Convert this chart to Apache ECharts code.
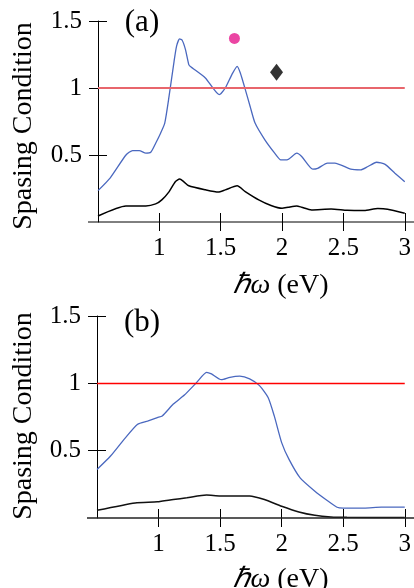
<!DOCTYPE html>
<html>
<head>
<meta charset="utf-8">
<script src="https://cdn.jsdelivr.net/npm/echarts@6/dist/echarts.min.js"></script>
<style>
html,body{margin:0;padding:0;background:#fff;}
#chart{width:414px;height:588px;}
</style>
</head>
<body>
<div id="chart"></div>
<script>
// ---------- data ----------
var xTicks = [1, 1.5, 2, 2.5, 3];
var yTicks = [0.5, 1, 1.5];
var threshold = 1;

var blueA = [[0.5,0.234],[0.6,0.33],[0.728,0.50],[0.782,0.533],[0.836,0.533],[0.89,0.514],[0.93,0.52],[0.97,0.588],[1.01,0.663],[1.044,0.738],[1.079,0.937],[1.12,1.199],[1.14,1.311],[1.165,1.366],[1.186,1.356],[1.213,1.286],[1.24,1.174],[1.253,1.16],[1.375,1.075],[1.488,0.95],[1.537,1.0],[1.591,1.10],[1.634,1.162],[1.66,1.112],[1.70,0.99],[1.74,0.862],[1.78,0.738],[1.86,0.613],[1.94,0.514],[1.99,0.464],[2.04,0.464],[2.12,0.514],[2.16,0.489],[2.25,0.394],[2.29,0.40],[2.37,0.44],[2.43,0.44],[2.56,0.394],[2.64,0.389],[2.70,0.414],[2.77,0.446],[2.84,0.43],[2.92,0.364],[3.0,0.30]];
var blackA = [[0.5,0.045],[0.728,0.12],[0.89,0.12],[0.97,0.135],[1.02,0.165],[1.08,0.227],[1.13,0.30],[1.165,0.32],[1.2,0.30],[1.24,0.27],[1.375,0.24],[1.48,0.223],[1.537,0.24],[1.634,0.27],[1.70,0.227],[1.81,0.165],[1.91,0.123],[2.0,0.102],[2.05,0.11],[2.12,0.12],[2.16,0.11],[2.24,0.09],[2.40,0.097],[2.53,0.087],[2.67,0.085],[2.78,0.10],[2.86,0.095],[3.0,0.065]];
var pinkDot = [[1.612,1.37]];
var diamond = [[1.955,1.117]];

var blueB = [[0.5,0.36],[0.61,0.46],[0.72,0.584],[0.83,0.696],[0.91,0.72],[0.99,0.746],[1.03,0.758],[1.12,0.846],[1.21,0.913],[1.31,1.007],[1.39,1.082],[1.43,1.07],[1.51,1.027],[1.58,1.045],[1.66,1.053],[1.74,1.033],[1.82,0.983],[1.89,0.895],[1.94,0.758],[2.0,0.56],[2.06,0.435],[2.15,0.298],[2.27,0.199],[2.37,0.13],[2.45,0.08],[2.5,0.074],[2.67,0.074],[2.81,0.081],[3.0,0.081]];
var blackB = [[0.5,0.057],[0.81,0.112],[0.99,0.12],[1.12,0.137],[1.23,0.15],[1.39,0.17],[1.5,0.164],[1.74,0.164],[1.86,0.137],[2.0,0.087],[2.14,0.045],[2.27,0.02],[2.40,0.008],[2.53,0.005],[3.0,0.003]];

var yName = 'Spasing Condition';

// ---------- style ----------
var FONT = "Liberation Serif";
var grids = [
  {left: 98, top: 21, width: 309, height: 201},
  {left: 97, top: 316, width: 310, height: 202}
];
var labelRich = {s:{fontFamily:FONT, fontSize:25, color:'#000'}};
function fmt(v) { return '{s|' + v + '}'; }

function xAxes(g) {
  return [
    {type:'value', gridIndex:g, min:0.5, max:3, interval:0.5,
     axisLine:{show:false}, splitLine:{show:false},
     axisTick:{show:true, inside:false, length:9, customValues:xTicks, lineStyle:{color:'#000', width:1}},
     axisLabel:{show:true, customValues:xTicks, margin:14, color:'#000', fontFamily:FONT, fontSize:25,
       formatter:fmt, rich:labelRich}},
    {type:'value', gridIndex:g, min:0.5, max:3, interval:0.5, position:'bottom',
     axisLine:{show:false}, splitLine:{show:false},
     axisTick:{show:true, inside:true, length:9, customValues:xTicks, lineStyle:{color:'#000', width:1}},
     axisLabel:{show:false}}
  ];
}
function yAxes(g) {
  return [
    {type:'value', gridIndex:g, min:0, max:1.5, interval:0.5,
     axisLine:{show:true, lineStyle:{color:'#000', width:1}}, splitLine:{show:false},
     axisTick:{show:true, inside:false, length:9, customValues:yTicks, lineStyle:{color:'#000', width:1}},
     axisLabel:{show:true, customValues:yTicks, margin:16, color:'#000', fontFamily:FONT, fontSize:25,
       formatter:fmt, rich:labelRich}},
    {type:'value', gridIndex:g, min:0, max:1.5, interval:0.5, position:'left',
     axisLine:{show:false}, splitLine:{show:false},
     axisTick:{show:true, inside:true, length:9, customValues:yTicks, lineStyle:{color:'#000', width:1}},
     axisLabel:{show:false}}
  ];
}

var BLUE = '#4a68bf';
var series = [
  {type:'line', xAxisIndex:0, yAxisIndex:0, data:blackA, showSymbol:false, smooth:0.2,
   lineStyle:{color:'#000', width:1.5}, z:3},
  {type:'line', xAxisIndex:0, yAxisIndex:0, data:blueA, showSymbol:false, smooth:0.2,
   lineStyle:{color:BLUE, width:1.3}, z:3,
   markLine:{silent:true, symbol:'none', label:{show:false}, data:[{yAxis:threshold}],
     lineStyle:{color:'#e8666c', width:2, type:'solid'}}},
  {type:'scatter', xAxisIndex:0, yAxisIndex:0, data:pinkDot, symbol:'circle', symbolSize:11,
   itemStyle:{color:'#e6168c'}, z:4},
  {type:'scatter', xAxisIndex:0, yAxisIndex:0, data:diamond, symbol:'diamond', symbolSize:[13,17],
   itemStyle:{color:'#000'}, z:4},
  {type:'line', xAxisIndex:2, yAxisIndex:2, data:blackB, showSymbol:false, smooth:0.2,
   lineStyle:{color:'#111', width:1.5}, z:3},
  {type:'line', xAxisIndex:2, yAxisIndex:2, data:blueB, showSymbol:false, smooth:0.2,
   lineStyle:{color:BLUE, width:1.3}, z:3,
   markLine:{silent:true, symbol:'none', label:{show:false}, data:[{yAxis:threshold}],
     lineStyle:{color:'#ff0000', width:1.3, type:'solid'}}}
];

function xName(cx, cy) {
  return {type:'text', x:cx, y:cy, style:{
    text:'{i|\u210F\u03C9} (eV)', align:'center', verticalAlign:'middle',
    fontFamily:FONT, fontSize:28, fill:'#000',
    rich:{i:{fontStyle:'italic', fontFamily:FONT, fontSize:28, fill:'#000'}}}};
}
function yNameText(cx, cy) {
  return {type:'text', x:cx, y:cy, rotation:Math.PI/2, style:{
    text:yName, align:'center', verticalAlign:'middle',
    fontFamily:FONT, fontSize:28, fill:'#000'}};
}
function panelLabel(t, cx, cy) {
  return {type:'text', x:cx, y:cy, style:{text:t, align:'center', verticalAlign:'middle',
    fontFamily:FONT, fontSize:31, fill:'#000'}};
}

var chart = echarts.init(document.getElementById('chart'), null, {renderer:'canvas'});
chart.setOption({
  animation:false,
  backgroundColor:'#fff',
  textStyle:{fontFamily:FONT},
  grid:grids,
  xAxis:xAxes(0).concat(xAxes(1)),
  yAxis:yAxes(0).concat(yAxes(1)),
  series:series,
  graphic:[
    {type:'line', shape:{x1:88, y1:222, x2:414, y2:222}, style:{stroke:'#000', lineWidth:1}, z:10},
    {type:'line', shape:{x1:87, y1:518, x2:414, y2:518}, style:{stroke:'#222', lineWidth:1.5}, z:10},
    xName(281, 286),
    xName(281, 580),
    yNameText(24, 126),
    yNameText(24, 416),
    panelLabel('(a)', 142, 23),
    panelLabel('(b)', 142, 323)
  ]
});
</script>
</body>
</html>
